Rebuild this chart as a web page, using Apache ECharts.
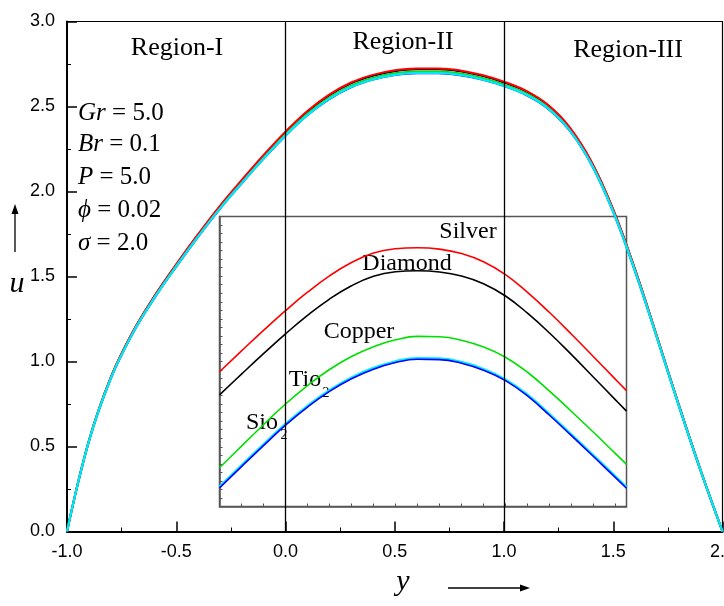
<!DOCTYPE html>
<html><head><meta charset="utf-8">
<script src="https://cdn.jsdelivr.net/npm/echarts@6/dist/echarts.min.js"></script>
<style>html,body{margin:0;padding:0;background:#fff}#c{width:724px;height:606px}</style>
</head><body><div id="c"></div>
<script>
// ---- main plot data (y position, velocity u) ----
const yPos = [-1.0,-0.9,-0.8,-0.7,-0.6,-0.5,-0.4,-0.3,-0.2,-0.1,0.0,0.1,0.2,0.3,0.4,0.5,0.6,0.7,0.8,0.9,1.0,1.1,1.2,1.3,1.4,1.5,1.6,1.7,1.8,1.9,2.0];
const uSilver  = [0,0.533,0.906,1.173,1.385,1.572,1.749,1.916,2.068,2.215,2.352,2.474,2.570,2.641,2.686,2.713,2.724,2.724,2.712,2.685,2.646,2.593,2.511,2.379,2.177,1.895,1.542,1.149,0.746,0.361,0];
const uDiamond = [0,0.532,0.905,1.171,1.383,1.570,1.746,1.913,2.064,2.211,2.348,2.469,2.565,2.636,2.681,2.708,2.719,2.719,2.707,2.680,2.641,2.589,2.507,2.375,2.174,1.892,1.540,1.147,0.745,0.360,0];
const uCopper  = [0,0.531,0.902,1.167,1.378,1.564,1.739,1.905,2.055,2.201,2.337,2.457,2.553,2.623,2.668,2.695,2.706,2.706,2.694,2.668,2.629,2.578,2.497,2.366,2.166,1.885,1.534,1.143,0.743,0.359,0];
const uTio2    = [0,0.530,0.900,1.165,1.375,1.560,1.735,1.900,2.050,2.195,2.330,2.450,2.545,2.615,2.660,2.687,2.698,2.698,2.686,2.660,2.622,2.571,2.491,2.361,2.161,1.881,1.531,1.141,0.741,0.358,0];
const uSio2    = [0,0.528,0.898,1.163,1.373,1.558,1.733,1.898,2.048,2.193,2.328,2.448,2.543,2.613,2.658,2.685,2.696,2.696,2.684,2.658,2.620,2.569,2.489,2.359,2.159,1.879,1.529,1.139,0.739,0.356,0];

// ---- inset (magnified) data ----
const insetX = [-0.3,-0.2,-0.1,0,0.1,0.2,0.3,0.4,0.5,0.6,0.7,0.8,0.9,1.0,1.1,1.2,1.3,1.4,1.5,1.55];
const inSilver  = [0.940,1.062,1.182,1.298,1.406,1.502,1.580,1.636,1.661,1.667,1.659,1.633,1.585,1.509,1.405,1.287,1.160,1.028,0.895,0.829];
const inDiamond = [0.804,0.926,1.046,1.162,1.270,1.366,1.444,1.500,1.526,1.532,1.525,1.501,1.456,1.384,1.283,1.167,1.040,0.908,0.775,0.709];
const inCopper  = [0.377,0.504,0.629,0.751,0.859,0.953,1.029,1.087,1.127,1.147,1.145,1.125,1.085,1.025,0.937,0.826,0.707,0.585,0.460,0.397];
const inTio2    = [0.266,0.391,0.514,0.634,0.740,0.832,0.906,0.962,1.001,1.020,1.018,0.997,0.956,0.895,0.805,0.692,0.572,0.450,0.326,0.264];
const inSio2    = [0.259,0.384,0.507,0.627,0.733,0.825,0.899,0.955,0.994,1.013,1.011,0.990,0.949,0.888,0.798,0.685,0.565,0.443,0.319,0.257];

const regionLines = [0, 1];
const regionNames = ['Region-I', 'Region-II', 'Region-III'];
const paramNames = ['Gr', 'Br', 'P', 'ϕ', 'σ'];
const paramValues = ['5.0', '0.1', '5.0', '0.02', '2.0'];
const fluidNames = ['Silver', 'Diamond', 'Copper', 'Tio', 'Sio'];

const SERIF = '"Liberation Serif","Times New Roman",serif';
const SANS = '"Liberation Sans",Arial,sans-serif';

const chart = echarts.init(document.getElementById('c'), null, {renderer: 'canvas'});
const pairs = (xs, ys) => xs.map((x, i) => [x, ys[i]]);

function mainLine(name, data, color, width) {
  return {name, type: 'line', xAxisIndex: 0, yAxisIndex: 0, data: pairs(yPos, data),
    showSymbol: false, smooth: 0.4, lineStyle: {color, width}, itemStyle: {color}, silent: true, z: 3};
}
function insetLine(name, data, color, width) {
  return {name, type: 'line', xAxisIndex: 1, yAxisIndex: 1, data: pairs(insetX, data),
    showSymbol: false, smooth: 0.45, lineStyle: {color, width}, itemStyle: {color}, silent: true, z: 4};
}

const series = [
  mainLine('Diamond', uDiamond, '#000000', 2),
  mainLine('Copper', uCopper, '#00e000', 2),
  mainLine('Sio2', uSio2, '#0000ff', 2),
  mainLine('Silver', uSilver, '#ff0000', 2),
  mainLine('Tio2', uTio2, '#00e8f0', 2.4),
  insetLine('iSilver', inSilver, '#ff0000', 1.6),
  insetLine('iDiamond', inDiamond, '#000000', 1.6),
  insetLine('iCopper', inCopper, '#00e000', 1.6),
  insetLine('iTio2', inTio2, '#00eeff', 2.4),
  insetLine('iSio2', inSio2, '#0000ff', 1.6)
];
series[0].markLine = {
  silent: true, symbol: ['none', 'none'], label: {show: false},
  lineStyle: {color: '#000', width: 1.3, type: 'solid'},
  data: regionLines.map(v => ({xAxis: v}))
};

const regionPos = [[177, 48], [403, 42], [628, 50]];
const paramY = [113, 144, 177, 210, 243];
const fluidPos = [[468, 232], [407, 264], [359, 332], [305, 380], [262, 423]];

const graphics = [];
regionNames.forEach((t, i) => graphics.push({type: 'text', x: regionPos[i][0], y: regionPos[i][1],
  style: {text: t, font: '26px ' + SERIF, fill: '#000', align: 'center', verticalAlign: 'middle'}}));
paramNames.forEach((t, i) => graphics.push({type: 'text', x: 78, y: paramY[i],
  style: {text: '{i|' + t + '}{n| = ' + paramValues[i] + '}', fill: '#000', align: 'left', verticalAlign: 'middle',
    rich: {i: {fontFamily: SERIF, fontSize: 25, fontStyle: 'italic', fill: '#000'},
           n: {fontFamily: SERIF, fontSize: 25, fill: '#000'}}}}));
fluidNames.forEach((t, i) => graphics.push({type: 'text', x: fluidPos[i][0], y: fluidPos[i][1],
  style: {text: t, font: '24px ' + SERIF, fill: '#000', align: 'center', verticalAlign: 'middle'}}));
// subscripts
[[326, 393], [284, 435]].forEach(p => graphics.push({type: 'text', x: p[0], y: p[1],
  style: {text: '2', font: '14px ' + SERIF, fill: '#000', align: 'center', verticalAlign: 'middle'}}));
// axis names with arrows
graphics.push({type: 'text', x: 17, y: 284, style: {text: 'u', font: 'italic 30px ' + SERIF, fill: '#000', align: 'center', verticalAlign: 'middle'}});
graphics.push({type: 'line', shape: {x1: 15, y1: 252, x2: 15, y2: 212}, style: {stroke: '#000', lineWidth: 1.3}});
graphics.push({type: 'polygon', shape: {points: [[15, 204], [11.5, 214], [18.5, 214]]}, style: {fill: '#000'}});
graphics.push({type: 'text', x: 403, y: 582, style: {text: 'y', font: 'italic 30px ' + SERIF, fill: '#000', align: 'center', verticalAlign: 'middle'}});
graphics.push({type: 'line', shape: {x1: 448, y1: 588, x2: 522, y2: 588}, style: {stroke: '#000', lineWidth: 1.3}});
graphics.push({type: 'polygon', shape: {points: [[530, 588], [520, 584.5], [520, 591.5]]}, style: {fill: '#000'}});

const option = {
  animation: false,
  backgroundColor: '#fff',
  grid: [
    {left: 67, right: 1.5, top: 21.5, bottom: 74.5, show: true, borderColor: '#000', borderWidth: 1.2,
     backgroundColor: 'transparent', containLabel: false, outerBoundsMode: 'none'},
    {left: 219.5, top: 216.5, width: 407, height: 290, show: true, borderColor: '#555', borderWidth: 1.5,
     backgroundColor: 'transparent', containLabel: false, outerBoundsMode: 'none'}
  ],
  xAxis: [
    {type: 'value', gridIndex: 0, min: -1, max: 2, interval: 0.5,
     axisLine: {show: true, onZero: false, lineStyle: {color: '#000', width: 2}},
     axisTick: {show: true, inside: true, length: 10, lineStyle: {color: '#000', width: 1.5}},
     minorTick: {show: true, splitNumber: 2, length: 4, lineStyle: {color: '#000', width: 1}},
     axisLabel: {color: '#000', fontFamily: SANS, fontSize: 18, margin: 12, formatter: v => v.toFixed(1)},
     splitLine: {show: false}},
    {type: 'value', gridIndex: 1, min: -0.3, max: 1.55, interval: 0.1,
     axisLine: {show: true, onZero: false, lineStyle: {color: '#555', width: 1.5}},
     axisTick: {show: true, inside: true, length: 3, lineStyle: {color: '#555', width: 1}},
     axisLabel: {show: false}, splitLine: {show: false}}
  ],
  yAxis: [
    {type: 'value', gridIndex: 0, min: 0, max: 3, interval: 0.5,
     axisLine: {show: true, onZero: false, lineStyle: {color: '#000', width: 2}},
     axisTick: {show: true, inside: true, length: 10, lineStyle: {color: '#000', width: 1.5}},
     minorTick: {show: true, splitNumber: 2, length: 4, lineStyle: {color: '#000', width: 1}},
     axisLabel: {color: '#000', fontFamily: SANS, fontSize: 18, margin: 12, formatter: v => v.toFixed(1)},
     splitLine: {show: false}},
    {type: 'value', gridIndex: 1, min: 0.15, max: 1.85, interval: 0.05,
     axisLine: {show: true, onZero: false, lineStyle: {color: '#555', width: 1.5}},
     axisTick: {show: true, inside: true, length: 3, lineStyle: {color: '#555', width: 1}},
     axisLabel: {show: false}, splitLine: {show: false}}
  ],
  series,
  graphic: graphics
};
chart.setOption(option);
</script></body></html>
